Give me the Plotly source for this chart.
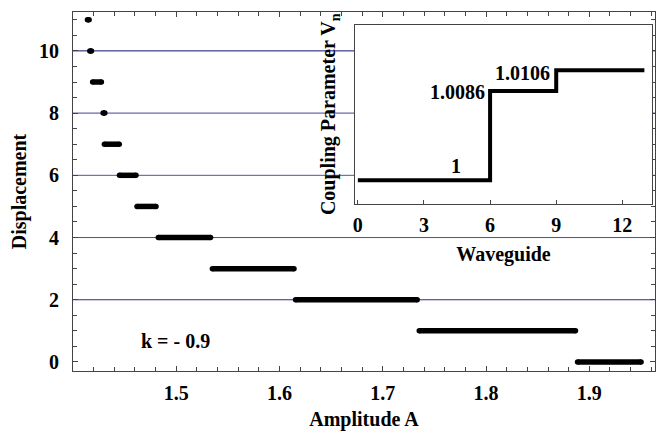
import plotly.graph_objects as go

# ---- main panel data: displacement plateaus vs amplitude ----
levels = [11, 10, 9, 8, 7, 6, 5, 4, 3, 2, 1, 0]
amp_start = [1.4140, 1.4163, 1.4190, 1.4292, 1.4304, 1.4450, 1.4620, 1.4826, 1.5350, 1.6155, 1.7353, 1.8886]
amp_end = [1.4156, 1.4179, 1.4275, 1.4308, 1.4448, 1.4610, 1.4804, 1.5332, 1.6140, 1.7333, 1.8866, 1.9501]

grid_levels = [2, 4, 6, 8, 10]
grid_colors = ["#2a2a9a", "#4a4ab2", "#5252ac", "#4040a2", "#10106a"]

x_ticks = [1.5, 1.6, 1.7, 1.8, 1.9]
y_ticks = [0, 2, 4, 6, 8, 10]

# ---- inset data: coupling parameter vs waveguide ----
wg = [0, 6, 9, 13]
vn = [1.0, 1.0086, 1.0106, 1.0106]
inset_ticks = [0, 3, 6, 9, 12]
inset_labels = [("1", 4.45, 1.00135), ("1.0086", 4.5, 1.00852), ("1.0106", 7.48, 1.01035)]

FONT = "Liberation Serif"
FS = 20

xs, ys = [], []
for lv, a0, a1 in zip(levels, amp_start, amp_end):
    xs += [a0, a1, None]
    ys += [lv, lv, None]

fig = go.Figure()
fig.add_trace(go.Scatter(
    x=xs, y=ys, mode="lines+markers",
    line=dict(color="black", width=5.5),
    marker=dict(color="black", size=5.5, symbol="circle", line=dict(width=0)),
    showlegend=False, hoverinfo="skip", connectgaps=False,
))
fig.add_trace(go.Scatter(
    x=wg, y=vn, mode="lines", line=dict(color="black", width=4, shape="hv"),
    xaxis="x2", yaxis="y2", showlegend=False, hoverinfo="skip",
))

for lv, c in zip(grid_levels, grid_colors):
    fig.add_shape(type="line", xref="x domain", yref="y", x0=0, x1=1, y0=lv, y1=lv,
                  line=dict(color=c, width=1), layer="below")

fig.add_annotation(x=1.4997, y=0.675, xref="x", yref="y", text="k = - 0.9",
                   showarrow=False, font=dict(size=FS))
for txt, xx, yy in inset_labels:
    fig.add_annotation(x=xx, y=yy, xref="x2", yref="y2", text=txt,
                       showarrow=False, font=dict(size=FS))

fig.update_layout(
    width=662, height=431,
    margin=dict(l=73, r=7, t=12, b=60, autoexpand=False),
    paper_bgcolor="white", plot_bgcolor="white",
    font=dict(family=FONT, size=FS, color="black", weight="bold"),
    xaxis=dict(
        automargin=False,
        range=[1.40, 1.9636], tickvals=x_ticks, ticktext=[f"{v:.1f}" for v in x_ticks],
        ticks="inside", ticklen=5, tickcolor="#444", showgrid=False, zeroline=False,
        showline=True, linecolor="#444", linewidth=1, mirror="ticks",
        minor=dict(dtick=0.02, tick0=1.4, ticks="inside", ticklen=4, tickcolor="#444"),
        ticklabelstandoff=4,
        title=dict(text="Amplitude A", standoff=10, font=dict(size=FS)),
    ),
    yaxis=dict(
        automargin=False,
        range=[-0.29, 11.25], tickvals=y_ticks, ticktext=[str(v) for v in y_ticks],
        ticks="inside", ticklen=5, tickcolor="#444", showgrid=False, zeroline=False,
        showline=True, linecolor="#444", linewidth=1, mirror="ticks",
        minor=dict(dtick=0.5, tick0=0, ticks="inside", ticklen=4, tickcolor="#444"),
        ticklabelstandoff=9,
        title=dict(text="Displacement", standoff=7, font=dict(size=FS)),
    ),
    xaxis2=dict(
        automargin=False,
        domain=[0.4845, 0.995], anchor="y2", range=[-0.13, 13.35],
        tickvals=inset_ticks, ticktext=[str(v) for v in inset_ticks],
        ticks="inside", ticklen=4, tickcolor="#444", showgrid=False, zeroline=False,
        showline=True, linecolor="#444", linewidth=1, mirror=True,
        ticklabelstandoff=3,
        title=dict(text="Waveguide", standoff=11, font=dict(size=FS)),
    ),
    yaxis2=dict(
        automargin=False,
        domain=[0.465, 0.965], anchor="x2", range=[0.9977, 1.0150],
        showticklabels=False, ticks="", showgrid=False, zeroline=False,
        showline=True, linecolor="#444", linewidth=1, mirror=True,
        title=dict(text="Coupling Parameter V<sub>n</sub>", standoff=12, font=dict(size=FS)),
    ),
)

fig.write_html("out.html", config={"displayModeBar": False},
               post_script="document.body.style.margin='0';")
